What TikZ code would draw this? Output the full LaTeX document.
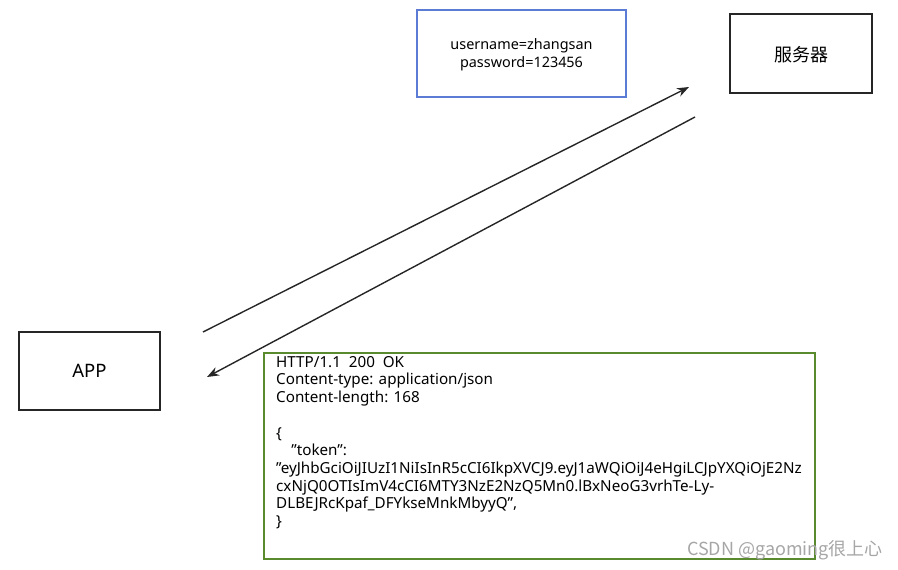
\documentclass[tikz,border=0pt]{standalone}
\usepackage{fontspec}
\setmainfont{Noto Sans}
\newfontfamily\cjk{Noto Sans CJK SC}
\usetikzlibrary{arrows.meta}
\definecolor{bluebox}{HTML}{5B7BD5}
\definecolor{greenbox}{HTML}{5A8A2E}
\definecolor{dark}{HTML}{262626}
\newcommand{\dq}{\symbol{34}}
\begin{document}
\begin{tikzpicture}[x=1pt,y=-1pt,
  box/.style={draw=dark,line width=2pt,inner sep=0pt},
  conn/.style={draw=dark,line width=1.4pt,-{Stealth[length=12pt,width=9pt]}},
  txt/.style={font=\fontsize{14.4}{18}\selectfont,text=black}]
\useasboundingbox (0,0) rectangle (898,570);
\node[box,draw=bluebox,minimum width=209pt,minimum height=87pt] (cred) at (521.5,53.5) {};
\node[txt,align=center] (credt) at (521.5,55) {username=zhangsan\\password=123456};
\node[box,minimum width=142pt,minimum height=79pt] (srv) at (801,53.5) {};
\node[txt,font=\cjk\fontsize{18}{20}\selectfont] (srvt) at (801,55) {服务器};
\node[box,minimum width=141pt,minimum height=78pt] (app) at (89.5,371) {};
\node[txt,font=\fontsize{18.5}{20}\selectfont] (appt) at (89.5,371) {APP};
\node[box,draw=greenbox,minimum width=551pt,minimum height=206pt] (resp) at (539.5,456) {};
\node[txt,font=\fontsize{15.2}{17.7}\selectfont,anchor=north west,align=left,inner sep=0pt] (respt) at (276,356) {HTTP/1.1\ \ 200\ \ OK\\
Content-type: application/json\\
Content-length: 168\\[17.7pt]
\{\\
\quad\dq token\dq:\\
\dq eyJhbGciOiJIUzI1NiIsInR5cCI6IkpXVCJ9.eyJ1aWQiOiJ4eHgiLCJpYXQiOjE2Nz\\
cxNjQ0OTIsImV4cCI6MTY3NzE2NzQ5Mn0.lBxNeoG3vrhTe-Ly-\\
DLBEJRcKpaf\_DFYkseMnkMbyyQ\dq,\\
\}};
\coordinate (a1s) at (203,332);
\coordinate (a1e) at (689,87);
\coordinate (a2s) at (695,117);
\coordinate (a2e) at (207,377);
\draw[conn] (a1s) -- (a1e);
\draw[conn] (a2s) -- (a2e);
\node[anchor=east,text=gray!70,font=\cjk\fontsize{18}{20}\selectfont,inner sep=0pt] (wm) at (883,550) {CSDN @gaoming很上心};
\end{tikzpicture}
\end{document}
